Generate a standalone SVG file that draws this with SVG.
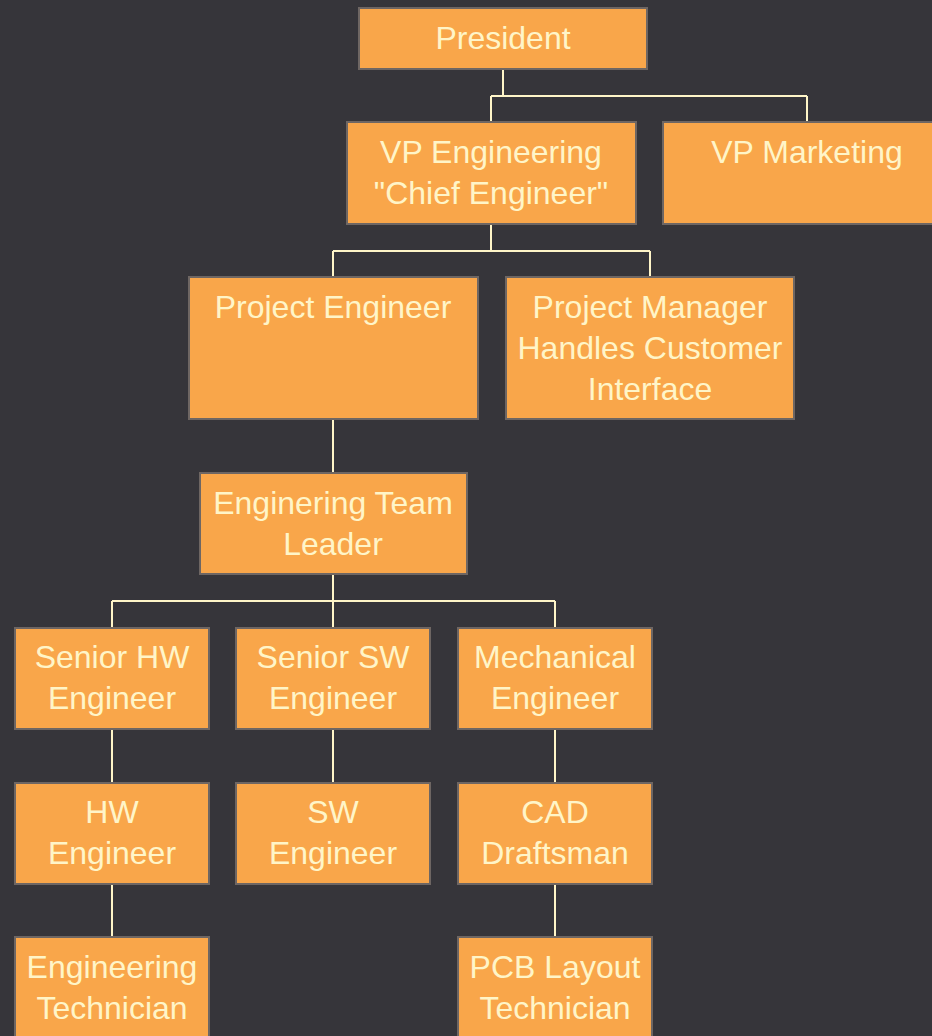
<svg xmlns="http://www.w3.org/2000/svg" width="932" height="1036" viewBox="0 0 932 1036">
<style>
.bg{fill:#36353a}
.box{fill:#f9a64a;stroke:#6e6663;stroke-width:2}
.lbl{font-family:"Liberation Sans",Arial,sans-serif;font-size:32px;fill:#fff5c8;text-anchor:middle}
.con{fill:none;stroke:#fff5c8;stroke-width:2}
</style>
<rect class="bg" x="0" y="0" width="932" height="1036"/>
<g id="connectors">
<path class="con" d="M503,69 V96 M491,96 H807 M491,96 V122 M807,96 V122"/>
<path class="con" d="M491,224 V251 M333,251 H650 M333,251 V277 M650,251 V277"/>
<path class="con" d="M333,419 V473"/>
<path class="con" d="M333,574 V601 M112,601 H555 M112,601 V628 M333,601 V628 M555,601 V628"/>
<path class="con" d="M112,729 V783 M333,729 V783 M555,729 V783"/>
<path class="con" d="M112,884 V937 M555,884 V937"/>
</g>
<g id="president"><rect class="box" x="359" y="8" width="288" height="61"/><text class="lbl" x="503" y="49">President</text></g>
<g id="vp-engineering"><rect class="box" x="347" y="122" width="289" height="102"/><text class="lbl" x="491" y="163">VP Engineering</text><text class="lbl" x="491" y="204">"Chief Engineer"</text></g>
<g id="vp-marketing"><rect class="box" x="663" y="122" width="288" height="102"/><text class="lbl" x="807" y="163">VP Marketing</text></g>
<g id="project-engineer"><rect class="box" x="189" y="277" width="289" height="142"/><text class="lbl" x="333" y="318">Project Engineer</text></g>
<g id="project-manager"><rect class="box" x="506" y="277" width="288" height="142"/><text class="lbl" x="650" y="318">Project Manager</text><text class="lbl" x="650" y="359">Handles Customer</text><text class="lbl" x="650" y="400">Interface</text></g>
<g id="team-leader"><rect class="box" x="200" y="473" width="267" height="101"/><text class="lbl" x="333" y="514">Enginering Team</text><text class="lbl" x="333" y="555">Leader</text></g>
<g id="senior-hw"><rect class="box" x="15" y="628" width="194" height="101"/><text class="lbl" x="112" y="668">Senior HW</text><text class="lbl" x="112" y="709">Engineer</text></g>
<g id="senior-sw"><rect class="box" x="236" y="628" width="194" height="101"/><text class="lbl" x="333" y="668">Senior SW</text><text class="lbl" x="333" y="709">Engineer</text></g>
<g id="mechanical"><rect class="box" x="458" y="628" width="194" height="101"/><text class="lbl" x="555" y="668">Mechanical</text><text class="lbl" x="555" y="709">Engineer</text></g>
<g id="hw-engineer"><rect class="box" x="15" y="783" width="194" height="101"/><text class="lbl" x="112" y="823">HW</text><text class="lbl" x="112" y="864">Engineer</text></g>
<g id="sw-engineer"><rect class="box" x="236" y="783" width="194" height="101"/><text class="lbl" x="333" y="823">SW</text><text class="lbl" x="333" y="864">Engineer</text></g>
<g id="cad"><rect class="box" x="458" y="783" width="194" height="101"/><text class="lbl" x="555" y="823">CAD</text><text class="lbl" x="555" y="864">Draftsman</text></g>
<g id="eng-tech"><rect class="box" x="15" y="937" width="194" height="110"/><text class="lbl" x="112" y="978">Engineering</text><text class="lbl" x="112" y="1019">Technician</text></g>
<g id="pcb-tech"><rect class="box" x="458" y="937" width="194" height="110"/><text class="lbl" x="555" y="978">PCB Layout</text><text class="lbl" x="555" y="1019">Technician</text></g>
</svg>
